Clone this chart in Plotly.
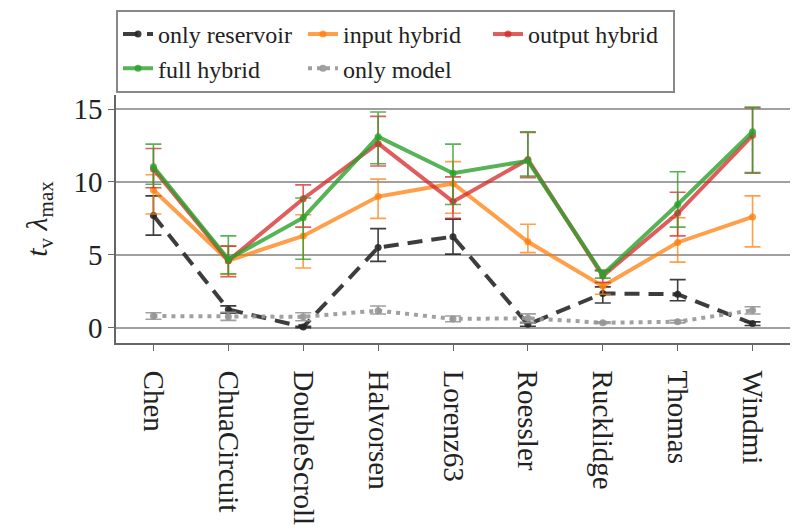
import numpy as np
import plotly.graph_objects as go

categories = ["Chen", "ChuaCircuit", "DoubleScroll", "Halvorsen", "Lorenz63",
              "Roessler", "Rucklidge", "Thomas", "Windmi"]

only_reservoir = [7.7, 1.25, 0.05, 5.5, 6.25, 0.23, 2.35, 2.3, 0.28]
only_reservoir_lo = [6.35, 1.0, 0.0, 4.55, 5.05, 0.1, 1.7, 1.85, 0.15]
only_reservoir_hi = [9.05, 1.5, 0.1, 6.8, 7.45, 0.35, 2.8, 3.3, 0.4]

input_hybrid = [9.45, 4.6, 6.3, 9.0, 9.9, 5.9, 2.85, 5.85, 7.6]
input_hybrid_lo = [7.8, 3.65, 4.1, 7.5, 7.85, 5.15, 2.3, 4.5, 5.55]
input_hybrid_hi = [10.5, 5.6, 7.75, 10.2, 11.4, 7.1, 3.1, 7.55, 9.05]

output_hybrid = [10.9, 4.6, 8.85, 12.65, 8.65, 11.55, 3.55, 7.85, 13.2]
output_hybrid_lo = [9.6, 3.5, 6.9, 11.1, 7.5, 10.3, 3.1, 6.3, 10.6]
output_hybrid_hi = [12.3, 5.6, 9.8, 14.5, 10.35, 13.4, 3.95, 9.3, 15.1]

full_hybrid = [11.05, 4.7, 7.55, 13.1, 10.6, 11.45, 3.65, 8.45, 13.45]
full_hybrid_lo = [9.85, 3.7, 4.7, 11.25, 8.45, 10.4, 3.4, 6.9, 10.65]
full_hybrid_hi = [12.6, 6.3, 8.9, 14.8, 12.6, 13.45, 3.9, 10.7, 15.15]

only_model = [0.8, 0.75, 0.75, 1.17, 0.6, 0.65, 0.34, 0.41, 1.2]
only_model_lo = [0.58, 0.5, 0.48, 0.94, 0.41, 0.35, 0.3, 0.33, 0.94]
only_model_hi = [1.03, 1.05, 1.03, 1.49, 0.8, 0.95, 0.4, 0.5, 1.44]

yticks = [0, 5, 10, 15]

series = [
    ("only reservoir", only_reservoir, only_reservoir_lo, only_reservoir_hi,
     "rgba(40,40,40,0.9)", "15px,9px"),
    ("input hybrid", input_hybrid, input_hybrid_lo, input_hybrid_hi,
     "rgba(255,127,14,0.75)", "solid"),
    ("output hybrid", output_hybrid, output_hybrid_lo, output_hybrid_hi,
     "rgba(214,39,40,0.75)", "solid"),
    ("full hybrid", full_hybrid, full_hybrid_lo, full_hybrid_hi,
     "rgba(44,160,44,0.8)", "solid"),
    ("only model", only_model, only_model_lo, only_model_hi,
     "rgba(150,150,150,0.9)", "4px,5px"),
]

fig = go.Figure()
for name, vals, lo, hi, color, dash in series:
    v = np.array(vals)
    fig.add_trace(go.Scatter(
        x=categories, y=v, name=name, mode="lines+markers",
        line=dict(color=color, width=4, dash=dash),
        marker=dict(color=color, size=7),
        error_y=dict(type="data", symmetric=False,
                     array=np.array(hi) - v, arrayminus=v - np.array(lo),
                     color=color, thickness=1.6, width=8),
    ))

FONT = "Liberation Serif, Times New Roman, serif"
fig.update_layout(
    width=800, height=529,
    margin=dict(l=116, r=10, t=95, b=186),
    paper_bgcolor="white", plot_bgcolor="white",
    font=dict(family=FONT, size=29, color="#222"),
    showlegend=True,
    legend=dict(
        orientation="h", x=0, xanchor="left", y=1.343, yanchor="top",
        bgcolor="white", bordercolor="#888", borderwidth=2,
        font=dict(family=FONT, size=24, color="#222"),
        entrywidth=140, entrywidthmode="pixels",
        tracegroupgap=0, itemwidth=30,
    ),
    xaxis=dict(
        range=[-0.5, 8.5], tickangle=90, showgrid=False,
        showline=True, linecolor="#666", linewidth=1.5,
        ticks="outside", ticklen=6, tickcolor="#666",
        tickfont=dict(family=FONT, size=29, color="#222"),
        ticklabelstandoff=14, automargin=False,
        zeroline=False,
    ),
    yaxis=dict(
        range=[-1.05, 15.97], tickvals=yticks,
        showgrid=True, gridcolor="#a0a0a0", gridwidth=1.5,
        showline=True, linecolor="#666", linewidth=1.5,
        ticks="outside", ticklen=6, tickcolor="#666",
        tickfont=dict(family=FONT, size=29, color="#222"),
        zeroline=False, automargin=False,
        title=dict(text="<i>t</i><sub>v</sub> <i>λ</i><sub>max</sub>",
                   font=dict(family=FONT, size=30, color="#222"), standoff=17),
    ),
)

fig.write_html("out.html")
